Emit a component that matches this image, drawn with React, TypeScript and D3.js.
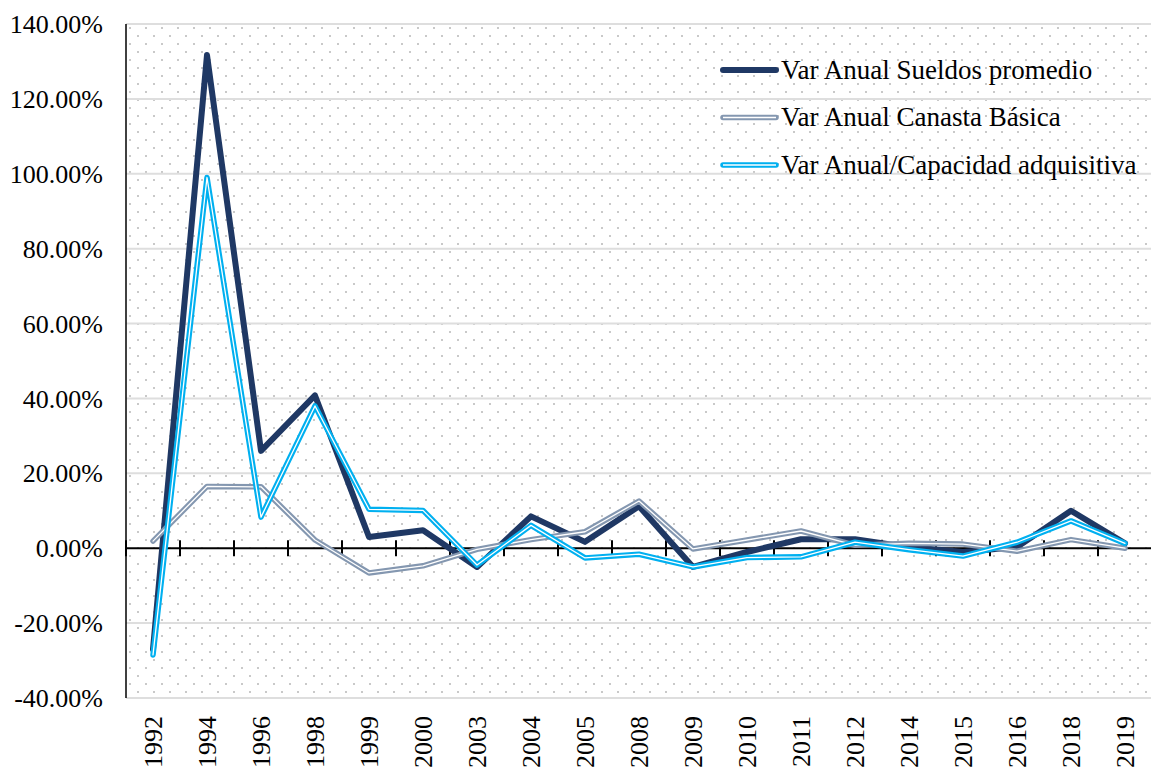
import React from 'react';
import * as d3 from 'd3';

const years = ['1992', '1994', '1996', '1998', '1999', '2000', '2003', '2004', '2005', '2008', '2009', '2010', '2011', '2012', '2014', '2015', '2016', '2018', '2019'];

// valores en %
const sueldos = [-27, 131.7, 26, 40.8, 3, 4.8, -5, 8.5, 1.7, 11.2, -5, -1, 2.4, 2.4, 0.3, -1, 0.3, 10, 1.3];
const canasta = [1.9, 16.5, 16.4, 2.2, -6.6, -4.7, -0.3, 2.3, 4.4, 12.6, -0.2, 2.2, 4.6, 0.8, 1.3, 1.1, -0.8, 2.3, 0];
const capacidad = [-28.5, 99, 8.3, 38, 10.4, 10.1, -4.5, 6.1, -2.6, -1.6, -5, -2.5, -2.3, 1.6, -0.4, -2.1, 1.6, 7.3, 1.3];

const yTicks = [-40, -20, 0, 20, 40, 60, 80, 100, 120, 140];

const seriesNames = ['Var Anual Sueldos promedio', 'Var Anual Canasta Básica', 'Var Anual/Capacidad adquisitiva'];

const W = 1151;
const H = 768;
const margin = { top: 24, right: -1, bottom: 70, left: 126 };
const font = "'Liberation Serif', 'DejaVu Serif', serif";

const App: React.FC = () => {
  const x = d3.scaleBand<string>()
    .domain(years)
    .range([margin.left, W - margin.right]);

  const y = d3.scaleLinear()
    .domain([-40, 140])
    .range([H - margin.bottom, margin.top]);

  const cx = (i: number) => (x(years[i]) as number) + x.bandwidth() / 2;

  const line = d3.line<number>()
    .x((_, i) => cx(i))
    .y(d => y(d));

  const series = [
    { name: seriesNames[0], values: sueldos, color: '#1f3864', width: 6, inner: false },
    { name: seriesNames[1], values: canasta, color: '#8497b0', width: 5.5, inner: true },
    { name: seriesNames[2], values: capacidad, color: '#00b0f0', width: 5.5, inner: true },
  ];

  const x0 = margin.left;
  const x1 = W - margin.right;
  const boundaries = d3.range(years.length + 1).map(i => margin.left + i * x.step());
  const txt = { fontFamily: font, fontSize: 26, fill: '#000' };

  return (
    <svg width={W} height={H} style={{ position: 'absolute', left: 0, top: 0, background: '#fff' }}>
      <defs>
        <pattern id="dots" width={16} height={16} patternUnits="userSpaceOnUse" x={x0} y={margin.top}>
          <rect x={3} y={3} width={2} height={2} fill="#c9c9c9" />
          <rect x={11} y={11} width={2} height={2} fill="#c9c9c9" />
        </pattern>
      </defs>
      <rect x={x0} y={margin.top} width={x1 - x0} height={y(-40) - margin.top} fill="url(#dots)" />

      {yTicks.map(t => (
        <g key={t}>
          {t !== 0 && (
            <line x1={x0} x2={x1} y1={y(t)} y2={y(t)} stroke="#dedede" strokeWidth={2} />
          )}
          <text x={103} y={y(t)} dy="0.35em" textAnchor="end" style={txt}>
            {t.toFixed(2) + '%'}
          </text>
        </g>
      ))}

      {/* eje vertical */}
      <line x1={x0} x2={x0} y1={margin.top} y2={y(-40)} stroke="#000" strokeWidth={1.5} />

      {/* eje cero */}
      <line x1={x0} x2={x1} y1={y(0)} y2={y(0)} stroke="#000" strokeWidth={2} />
      {boundaries.map((b, i) => (
        <line key={i} x1={b} x2={b} y1={y(0) - 8} y2={y(0) + 8} stroke="#000" strokeWidth={2} />
      ))}

      {years.map(yr => (
        <text
          key={yr}
          transform={`translate(${(x(yr) as number) + x.bandwidth() / 2},${H - margin.bottom + 18}) rotate(-90)`}
          dy="0.35em"
          textAnchor="end"
          style={txt}
        >
          {yr}
        </text>
      ))}

      {series.map(s => (
        <g key={s.name}>
          <path d={line(s.values) as string} fill="none" stroke={s.color} strokeWidth={s.width} strokeLinejoin="round" strokeLinecap="round" />
          {s.inner && (
            <path d={line(s.values) as string} fill="none" stroke="#fff" strokeWidth={1.3} strokeLinejoin="round" strokeLinecap="round" />
          )}
        </g>
      ))}

      {series.map((s, i) => {
        const ly = 70 + i * 47.5;
        return (
          <g key={s.name + '-legend'}>
            <line x1={723} x2={776} y1={ly} y2={ly} stroke={s.color} strokeWidth={s.width} strokeLinecap="round" />
            {s.inner && <line x1={723} x2={776} y1={ly} y2={ly} stroke="#fff" strokeWidth={1.3} />}
            <text x={781} y={ly} dy="0.33em" style={{ ...txt, fontSize: 27 }}>{s.name}</text>
          </g>
        );
      })}
    </svg>
  );
};

export default App;
